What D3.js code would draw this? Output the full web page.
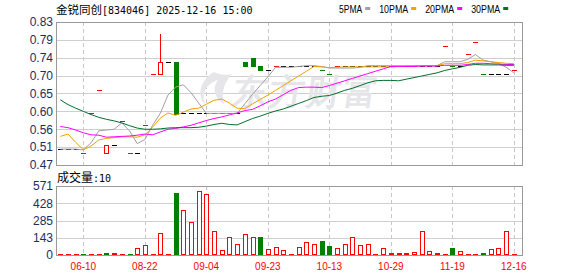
<!DOCTYPE html>
<head>
  <meta charset="utf-8" />
  <script src="https://d3js.org/d3.v7.min.js"></script>
  <style>
    body { margin: 0; background: #fff; }
    text { font-family: "Liberation Sans", Arial, sans-serif; }
  </style>
</head>
<body>
<script>
var width = 578, height = 276;

var titleName = "金锐同创";
var titleRest = "[834046] 2025-12-16 15:00";
var volName = "成交量";
var volLast = ":10";

// daily candles (60 trading days)
var open = [0.51,0.51,0.51,0.50,0.60,0.66,0.50,0.52,0.58,0.50,
            0.50,0.57,0.70,0.70,0.73,0.73,0.60,0.60,0.60,0.60,
            0.60,0.60,0.60,0.60,0.73,0.74,0.72,0.71,0.72,0.72,
            0.72,0.72,0.72,0.72,0.71,0.70,0.72,0.72,0.72,0.72,
            0.72,0.72,0.72,0.72,0.72,0.72,0.72,0.72,0.72,0.72,
            0.77,0.72,0.72,0.75,0.78,0.70,0.70,0.70,0.70,0.71];
var high = [0.51,0.51,0.51,0.50,0.60,0.66,0.52,0.52,0.58,0.50,
            0.50,0.57,0.70,0.80,0.73,0.73,0.60,0.60,0.60,0.60,
            0.60,0.60,0.60,0.60,0.73,0.74,0.72,0.71,0.72,0.72,
            0.72,0.72,0.72,0.72,0.71,0.70,0.72,0.72,0.72,0.72,
            0.72,0.72,0.72,0.72,0.72,0.72,0.72,0.72,0.72,0.72,
            0.77,0.72,0.72,0.75,0.78,0.70,0.70,0.70,0.70,0.71];
var low = [0.51,0.51,0.51,0.50,0.60,0.66,0.50,0.52,0.58,0.50,
           0.50,0.57,0.70,0.70,0.73,0.60,0.60,0.60,0.60,0.60,
           0.60,0.60,0.60,0.60,0.72,0.72,0.71,0.71,0.72,0.72,
           0.72,0.72,0.72,0.72,0.71,0.70,0.72,0.72,0.72,0.72,
           0.72,0.72,0.72,0.72,0.72,0.72,0.72,0.72,0.72,0.72,
           0.77,0.72,0.72,0.75,0.78,0.70,0.70,0.70,0.70,0.71];
var close = [0.51,0.51,0.51,0.50,0.60,0.66,0.52,0.52,0.58,0.50,
             0.50,0.57,0.70,0.73,0.73,0.60,0.60,0.60,0.60,0.60,
             0.60,0.60,0.60,0.60,0.72,0.72,0.71,0.71,0.72,0.72,
             0.72,0.72,0.72,0.72,0.71,0.70,0.72,0.72,0.72,0.72,
             0.72,0.72,0.72,0.72,0.72,0.72,0.72,0.72,0.72,0.72,
             0.77,0.72,0.72,0.75,0.78,0.70,0.70,0.70,0.70,0.71];
var prevClose = 0.51; // close of the day before the first one shown

var volume = [5,5,5,6,5,5,17,15,5,6,
              56,81,5,186,5,513,369,269,527,502,
              195,45,145,95,170,153,145,53,70,45,
              8,70,111,95,114,72,62,95,145,86,
              95,5,62,15,15,15,22,197,31,15,
              5,56,31,5,5,15,47,62,197,10];

var ma5 = [0.51,0.51,0.51,0.508,0.526,0.556,0.558,0.56,0.576,0.556,
           0.524,0.534,0.57,0.60,0.646,0.666,0.672,0.652,0.626,0.60,
           0.60,0.60,0.60,0.60,0.624,0.648,0.67,0.692,0.716,0.716,
           0.716,0.718,0.72,0.72,0.718,0.714,0.714,0.714,0.714,0.716,
           0.72,0.72,0.72,0.72,0.72,0.72,0.72,0.72,0.72,0.72,
           0.73,0.73,0.73,0.736,0.748,0.734,0.73,0.726,0.716,0.702];
var ma10 = [0.542,0.548,0.527,0.508,0.518,0.533,0.537,0.539,0.541,0.541,
            0.540,0.546,0.565,0.588,0.601,0.595,0.603,0.611,0.613,0.623,
            0.633,0.636,0.626,0.613,0.612,0.624,0.635,0.646,0.658,0.670,
            0.682,0.694,0.706,0.718,0.717,0.715,0.716,0.717,0.717,0.717,
            0.717,0.717,0.717,0.717,0.718,0.720,0.720,0.720,0.720,0.720,
            0.725,0.725,0.725,0.728,0.734,0.732,0.730,0.728,0.726,0.725];
var ma20 = [0.567,0.564,0.558,0.551,0.546,0.545,0.540,0.541,0.542,0.543,
            0.545,0.548,0.546,0.553,0.560,0.562,0.566,0.570,0.576,0.582,
            0.587,0.591,0.596,0.601,0.607,0.610,0.619,0.629,0.636,0.647,
            0.658,0.665,0.666,0.666,0.665,0.670,0.676,0.682,0.688,0.694,
            0.700,0.706,0.712,0.718,0.718,0.718,0.718,0.719,0.719,0.719,
            0.721,0.721,0.721,0.723,0.726,0.726,0.725,0.724,0.723,0.723];
var ma30 = [0.634,0.622,0.613,0.605,0.597,0.590,0.585,0.581,0.576,0.569,
            0.563,0.560,0.560,0.561,0.563,0.564,0.564,0.564,0.565,0.568,
            0.572,0.575,0.572,0.571,0.579,0.587,0.593,0.600,0.606,0.611,
            0.618,0.625,0.632,0.640,0.643,0.645,0.651,0.658,0.663,0.670,
            0.677,0.682,0.683,0.683,0.682,0.686,0.690,0.694,0.698,0.702,
            0.708,0.712,0.716,0.721,0.723,0.722,0.722,0.722,0.721,0.721];

var dateIdx = [3, 11, 19, 27, 35, 43, 51, 59];
var dateLabels = ["06-10", "08-22", "09-04", "09-23", "10-13", "10-29", "11-19", "12-16"];
var priceTicks = [0.47, 0.515, 0.56, 0.605, 0.65, 0.695, 0.74, 0.785, 0.83];
var priceLabels = ["0.47", "0.51", "0.56", "0.60", "0.65", "0.70", "0.74", "0.79", "0.83"];
var volTicks = [0, 143, 285, 428, 571];
var maNames = ["5PMA", "10PMA", "20PMA", "30PMA"];
var maColors = ["#a0a0a0", "#f2a100", "#ff00ff", "#00702c"];

var red = "#ff0000", green = "#008000";
var monoFont = "'DejaVu Sans Mono', monospace";
var cjkFont = "'Noto Sans CJK SC', sans-serif";

var svg = d3.select("body").append("svg")
  .attr("width", width)
  .attr("height", height);

var left = 56, right = 522;
var mainTop = 22, mainBottom = 165, volTop = 186, volBottom = 255;

var x = d3.scaleBand().domain(d3.range(close.length)).range([56.5, 517.7]);
function cx(i) { return x(i) + x.bandwidth() / 2; }
var y = d3.scaleLinear().domain([0.47, 0.83]).range([mainBottom, mainTop]);
var yv = d3.scaleLinear().domain([0, 571]).range([volBottom, volTop]);

// grid
var grid = svg.append("g").attr("shape-rendering", "crispEdges");
grid.selectAll(".hp").data(priceTicks).join("line")
  .attr("x1", left).attr("x2", right)
  .attr("y1", d => Math.round(y(d)) + 0.5).attr("y2", d => Math.round(y(d)) + 0.5)
  .attr("stroke", "#cfcfcf");
grid.selectAll(".hv").data(volTicks).join("line")
  .attr("x1", left).attr("x2", right)
  .attr("y1", d => Math.round(yv(d)) + 0.5).attr("y2", d => Math.round(yv(d)) + 0.5)
  .attr("stroke", "#cfcfcf");
[[mainTop, mainBottom], [volTop, volBottom]].forEach(function (p) {
  grid.selectAll(null).data(dateIdx).join("line")
    .attr("x1", d => Math.round(cx(d)) + 0.5).attr("x2", d => Math.round(cx(d)) + 0.5)
    .attr("y1", p[0]).attr("y2", p[1])
    .attr("stroke", "#c8c8c8")
    .attr("stroke-dasharray", "4,3");
});

// watermark
var wm = svg.append("g").attr("fill", "#e6e6ea");
wm.append("path")
  .attr("d", "M214,72 C200,80 196,96 206,106 C200,94 206,84 218,80 C212,88 214,98 224,104 C220,92 226,80 232,74 C224,76 218,74 214,72 Z");
wm.append("text")
  .attr("x", 233).attr("y", 104)
  .attr("font-family", cjkFont)
  .attr("font-weight", "bold")
  .attr("font-size", 35)
  .attr("letter-spacing", 2)
  .attr("transform", "skewX(-8)")
  .attr("dx", 13)
  .text("东方财富");

// candles
var cg = svg.append("g").attr("shape-rendering", "crispEdges");
close.forEach(function (c, i) {
  var o = open[i], pc = i ? close[i - 1] : prevClose;
  var col;
  if (c > o) col = red;
  else if (c < o) col = green;
  else col = c > pc ? red : (c < pc ? green : "#000");
  var xc = Math.round(cx(i));
  var top = Math.max(o, c), bot = Math.min(o, c);
  if (high[i] > top) {
    cg.append("line").attr("x1", xc + 0.5).attr("x2", xc + 0.5)
      .attr("y1", y(high[i])).attr("y2", y(top)).attr("stroke", col);
  }
  if (low[i] < bot) {
    cg.append("line").attr("x1", xc + 0.5).attr("x2", xc + 0.5)
      .attr("y1", y(bot)).attr("y2", y(low[i])).attr("stroke", col);
  }
  if (c === o) {
    var yy = Math.round(y(c)) + 0.5;
    cg.append("line").attr("x1", xc - 2).attr("x2", xc + 3)
      .attr("y1", yy).attr("y2", yy).attr("stroke", col);
  } else if (c > o) {
    cg.append("rect").attr("x", xc - 1.5).attr("width", 4)
      .attr("y", Math.round(y(c)) + 0.5).attr("height", Math.round(y(o) - y(c)))
      .attr("fill", "#fff").attr("stroke", col);
  } else {
    cg.append("rect").attr("x", xc - 2).attr("width", 5)
      .attr("y", Math.round(y(o))).attr("height", Math.round(y(c) - y(o)) + 1)
      .attr("fill", col);
  }
});

// moving averages
var line = d3.line().x((d, i) => cx(i)).y(d => y(d));
[ma5, ma10, ma20, ma30].forEach(function (s, k) {
  svg.append("path").datum(s)
    .attr("d", line)
    .attr("fill", "none")
    .attr("stroke", maColors[k])
    .attr("stroke-width", 1);
});

// volume bars
var vg = svg.append("g").attr("shape-rendering", "crispEdges");
volume.forEach(function (v, i) {
  var pc = i ? close[i - 1] : prevClose;
  var xc = Math.round(cx(i));
  var h = Math.max(1, Math.round(yv(0) - yv(v)));
  if (close[i] < pc) {
    vg.append("rect").attr("x", xc - 2).attr("width", 5)
      .attr("y", volBottom - h).attr("height", h).attr("fill", green);
  } else {
    vg.append("rect").attr("x", xc - 1.5).attr("width", 4)
      .attr("y", volBottom - h + 0.5).attr("height", Math.max(h - 1, 0.5))
      .attr("fill", "#fff").attr("stroke", red);
  }
});

// panel frames
var fr = svg.append("g").attr("shape-rendering", "crispEdges")
  .attr("fill", "none").attr("stroke", "#999");
fr.append("rect").attr("x", left + 0.5).attr("y", mainTop + 0.5)
  .attr("width", right - left).attr("height", mainBottom - mainTop);
fr.append("rect").attr("x", left + 0.5).attr("y", volTop + 0.5)
  .attr("width", right - left).attr("height", volBottom - volTop);

// axis labels
svg.selectAll(".pl").data(priceTicks).join("text")
  .attr("x", 53).attr("y", d => y(d)).attr("dy", "0.36em")
  .attr("text-anchor", "end")
  .attr("font-size", 12)
  .attr("fill", "#1c2e5e")
  .text((d, i) => priceLabels[i]);
svg.selectAll(".vl").data(volTicks).join("text")
  .attr("x", 53).attr("y", d => yv(d)).attr("dy", "0.36em")
  .attr("text-anchor", "end")
  .attr("font-size", 12)
  .attr("fill", "#1c2e5e")
  .text(d => d);
svg.selectAll(".dl").data(dateIdx).join("text")
  .attr("x", d => cx(d)).attr("y", 270)
  .attr("text-anchor", "middle")
  .attr("font-family", monoFont)
  .attr("font-size", 10)
  .attr("fill", red)
  .text((d, i) => dateLabels[i]);

// title
var t = svg.append("text").attr("x", 56).attr("y", 13.5).attr("fill", "#000");
t.append("tspan").attr("font-family", cjkFont).attr("font-size", 11.5).text(titleName);
t.append("tspan").attr("font-family", monoFont).attr("font-size", 10).text(titleRest);

var vt = svg.append("text").attr("x", 57).attr("y", 182).attr("fill", "#000");
vt.append("tspan").attr("font-family", cjkFont).attr("font-size", 12).text(volName);
vt.append("tspan").attr("font-family", monoFont).attr("font-size", 10).text(volLast);

// legend
var lx = 339;
maNames.forEach(function (n, k) {
  var w = n.length * 5.8;
  svg.append("text").attr("x", lx).attr("y", 13)
    .attr("font-family", monoFont).attr("font-size", 10).attr("fill", "#000")
    .attr("textLength", w).attr("lengthAdjust", "spacingAndGlyphs")
    .text(n);
  svg.append("rect").attr("x", lx + w + 3).attr("y", 7).attr("width", 5).attr("height", 3)
    .attr("fill", maColors[k]);
  lx += w + 3 + 5 + 9;
});
</script>
</body>
